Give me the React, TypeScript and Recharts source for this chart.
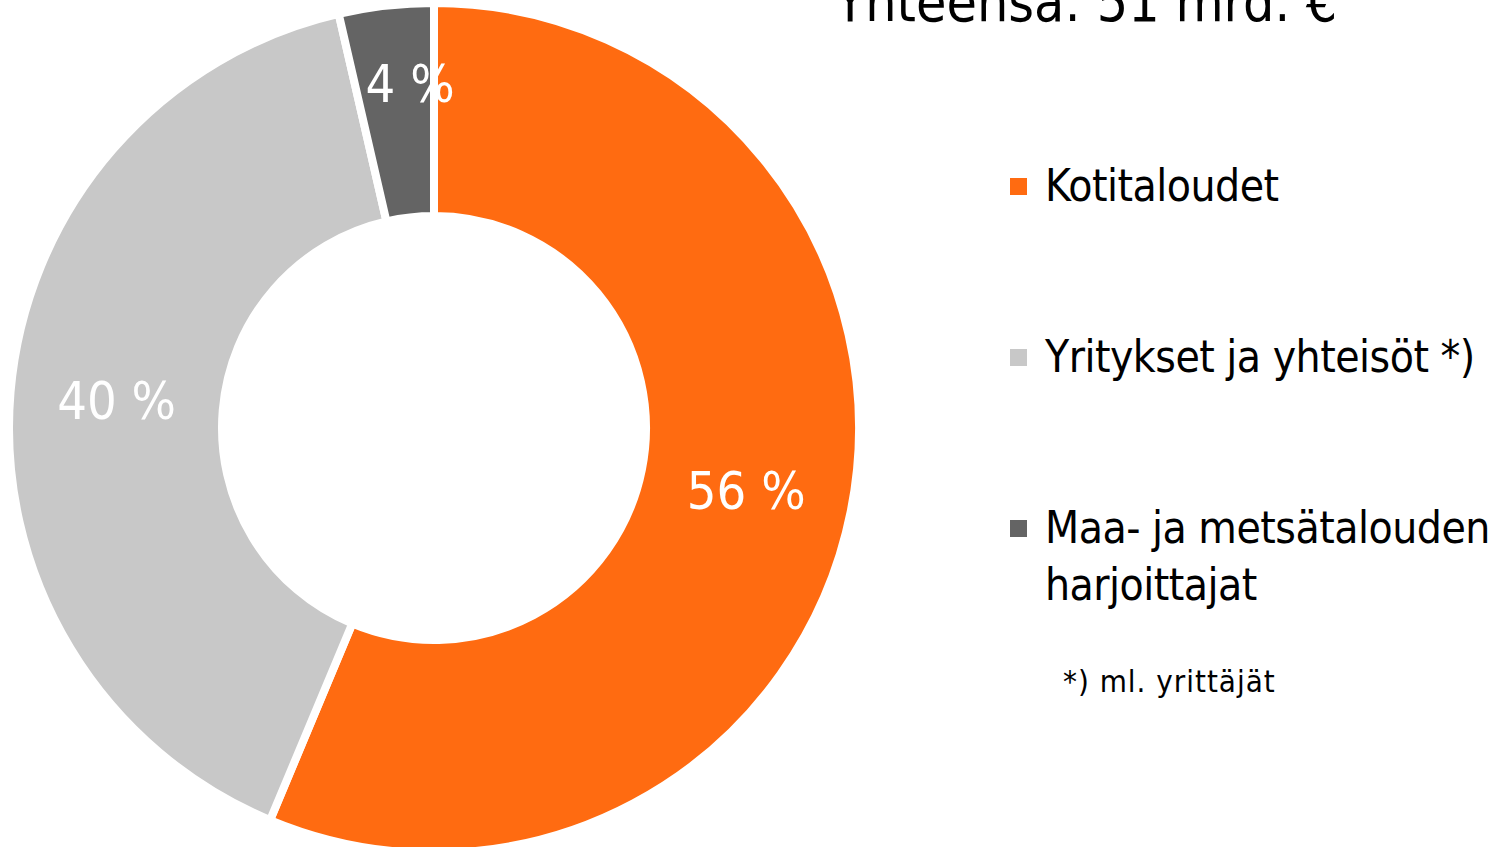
import React from "react";
import { PieChart, Pie, Cell, Legend } from "recharts";

// shares of the 51 bn € total
const categories = [
  "Kotitaloudet",
  "Yritykset ja yhteisöt *)",
  "Maa- ja metsätalouden harjoittajat",
];
const shares = [56.3, 40.1, 3.6];
const colors = ["#FF6B11", "#C8C8C8", "#646464"];

const title = "Yhteensä: 51 mrd. €";
const footnote = "*) ml. yrittäjät";

const FONT = '"DejaVu Sans Condensed", "DejaVu Sans", sans-serif';
const RADIAN = Math.PI / 180;

const data = categories.map((name, i) => ({ name, value: shares[i] }));

const renderLabel = (props: any) => {
  const { cx, cy, midAngle, innerRadius, outerRadius, percent } = props;
  const r = (innerRadius + outerRadius) / 2;
  let x = cx + r * Math.cos(-midAngle * RADIAN);
  let y = cy + r * Math.sin(-midAngle * RADIAN);
  // small slice: label sits a bit further out, like the original
  if (percent < 0.06) {
    x += 12;
    y -= 28;
  }
  return (
    <text
      x={x}
      y={y}
      fill="#FFFFFF"
      textAnchor="middle"
      dominantBaseline="central"
      fontSize={52}
      fontFamily={FONT}
    >
      {`${Math.round(percent * 100)} %`}
    </text>
  );
};

const renderLegend = (props: any) => {
  // keep the order of the slices, not alphabetical
  const items = [...props.payload].sort(
    (a: any, b: any) => categories.indexOf(a.value) - categories.indexOf(b.value)
  );
  return (
    <div style={{ fontFamily: FONT, fontSize: 44, letterSpacing: -0.5, color: "#000" }}>
      {items.map((entry: any, i: number) => (
        <div
          key={i}
          style={{ display: "flex", alignItems: "flex-start", height: 171 }}
        >
          <div
            style={{
              width: 17,
              height: 17,
              marginTop: 21,
              background: entry.color,
              flex: "none",
            }}
          />
          <div style={{ marginLeft: 18, width: 462, lineHeight: "57px" }}>
            {entry.value}
          </div>
        </div>
      ))}
    </div>
  );
};

export default function App() {
  return (
    <div
      style={{
        position: "absolute",
        left: 0,
        top: 0,
        width: 1510,
        height: 847,
        overflow: "hidden",
        background: "#fff",
      }}
    >
      <PieChart width={1510} height={847} margin={{ top: 0, right: 0, bottom: 0, left: 0 }}>
        <Pie
          data={data}
          dataKey="value"
          nameKey="name"
          cx={434}
          cy={428}
          innerRadius={212}
          outerRadius={425}
          startAngle={90}
          endAngle={-270}
          stroke="#FFFFFF"
          strokeWidth={8}
          label={renderLabel}
          labelLine={false}
          isAnimationActive={false}
        >
          {data.map((d, i) => (
            <Cell key={d.name} fill={colors[i]} />
          ))}
        </Pie>
        <Legend
          layout="vertical"
          content={renderLegend}
          wrapperStyle={{ position: "absolute", left: 1010, top: 157, width: 500 }}
        />
      </PieChart>
      <svg
        width={1510}
        height={847}
        style={{ position: "absolute", left: 0, top: 0, pointerEvents: "none" }}
      >
        <text x={835} y={21} fontSize={55} fontFamily={FONT} fill="#000">
          {title}
        </text>
        <text x={1063} y={692} fontSize={31} fontFamily={FONT} letterSpacing={1} fill="#000">
          {footnote}
        </text>
      </svg>
    </div>
  );
}
